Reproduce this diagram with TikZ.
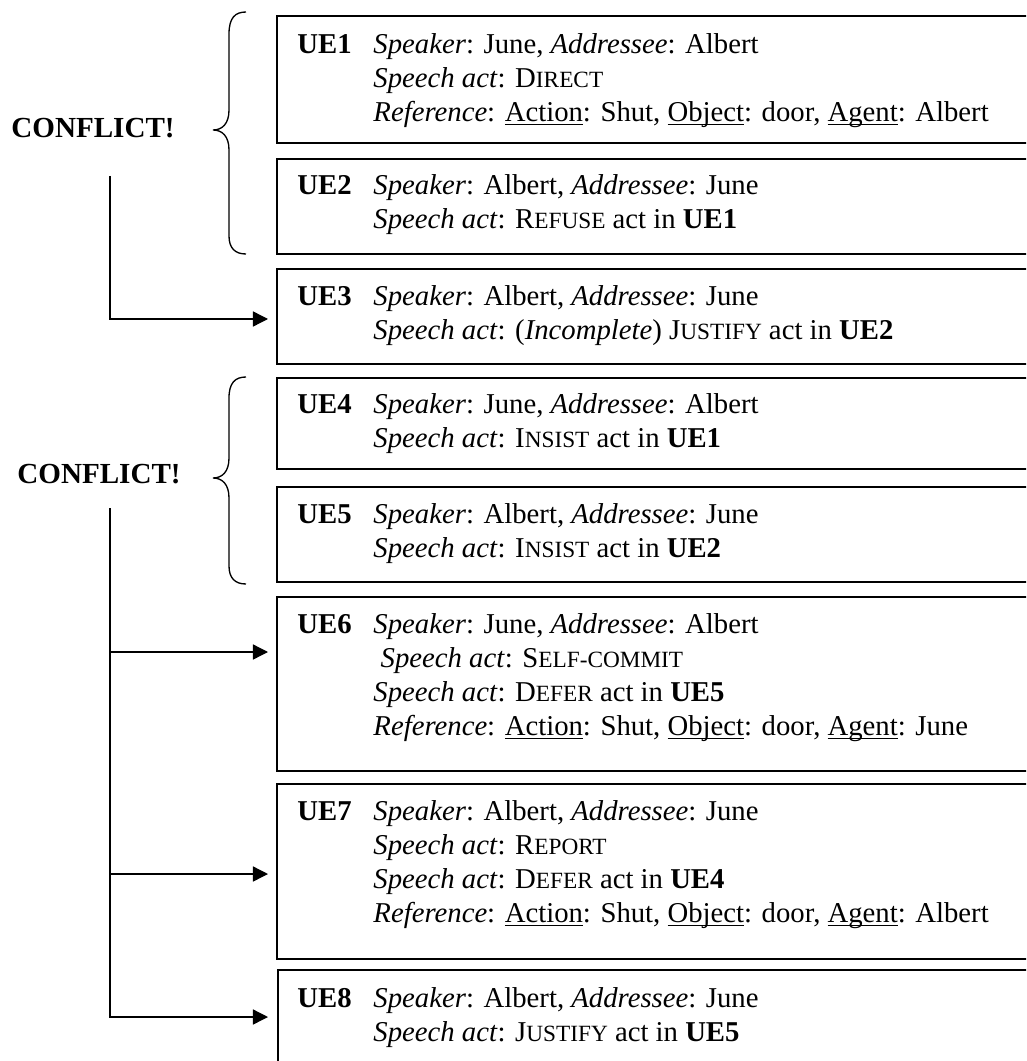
\documentclass[tikz,border=0pt]{standalone}
\usepackage{fontspec}
\setmainfont{Liberation Serif}
\usetikzlibrary{arrows.meta,calc}

% one drawing unit
\newdimen\pxu \pxu=0.4125pt
% width of the label column inside each box
\newdimen\uecol \uecol=31.35pt
% faux small capitals: first letter full size, the rest smaller
\newcommand\fsc[2]{#1{\fontsize{9.6}{14}\selectfont #2}}
% underline at a fixed depth below the baseline
\newcommand\uln[1]{\sbox0{#1}\rlap{\rule[-1.7pt]{\wd0}{0.55pt}}\usebox0}
\newcommand\ue[1]{\strut\makebox[\uecol][l]{\textbf{#1}}}
\newcommand\ind{\hspace*{\uecol}}

\begin{document}
\begin{tikzpicture}[x=\pxu,y=-\pxu,
  uebox/.style={draw,line width=0.8pt,anchor=north west,inner sep=0pt,minimum width=824*\pxu},
  uetext/.style={anchor=north west,inner sep=0pt,align=left,font=\fontsize{11.85}{14}\selectfont},
  conflict/.style={anchor=base,inner sep=0pt,font=\fontsize{12}{14}\selectfont\bfseries},
  arr/.style={line width=0.55pt,-{Triangle[length=6.2pt,width=6.2pt]},shorten >=3.3pt},
  bracel/.style={line width=0.55pt}]

\path[use as bounding box] (0,0) rectangle (1026,1061);
\clip (0,0) rectangle (1026,1061);

% utterance boxes
\node[uebox,minimum height=127*\pxu] (b1) at (276,15) {};
\node[uebox,minimum height=95*\pxu]  (b2) at (276,158) {};
\node[uebox,minimum height=95*\pxu]  (b3) at (276,268) {};
\node[uebox,minimum height=91*\pxu]  (b4) at (276,377) {};
\node[uebox,minimum height=95*\pxu]  (b5) at (276,486) {};
\node[uebox,minimum height=174*\pxu] (b6) at (276,596) {};
\node[uebox,minimum height=175*\pxu] (b7) at (276,783) {};
\node[uebox,minimum height=140*\pxu] (b8) at (277,969) {};

% box contents
\node[uetext] (t1) at ($(b1.north west)+(21,14)$) {%
  \ue{UE1}\textit{Speaker}: June, \textit{Addressee}: Albert\\
  \ind\textit{Speech act}: \fsc{D}{IRECT}\\
  \ind\textit{Reference}: \uln{Action}: Shut, \uln{Object}: door, \uln{Agent}: Albert};
\node[uetext] (t2) at ($(b2.north west)+(21,12)$) {%
  \ue{UE2}\textit{Speaker}: Albert, \textit{Addressee}: June\\
  \ind\textit{Speech act}: \fsc{R}{EFUSE} act in \textbf{UE1}};
\node[uetext] (t3) at ($(b3.north west)+(21,13)$) {%
  \ue{UE3}\textit{Speaker}: Albert, \textit{Addressee}: June\\
  \ind\textit{Speech act}: (\textit{Incomplete}) \fsc{J}{USTIFY} act in \textbf{UE2}};
\node[uetext] (t4) at ($(b4.north west)+(21,12)$) {%
  \ue{UE4}\textit{Speaker}: June, \textit{Addressee}: Albert\\
  \ind\textit{Speech act}: \fsc{I}{NSIST} act in \textbf{UE1}};
\node[uetext] (t5) at ($(b5.north west)+(21,13)$) {%
  \ue{UE5}\textit{Speaker}: Albert, \textit{Addressee}: June\\
  \ind\textit{Speech act}: \fsc{I}{NSIST} act in \textbf{UE2}};
\node[uetext] (t6) at ($(b6.north west)+(21,13)$) {%
  \ue{UE6}\textit{Speaker}: June, \textit{Addressee}: Albert\\
  \ind\ \textit{Speech act}: \fsc{S}{ELF-COMMIT}\\
  \ind\textit{Speech act}: \fsc{D}{EFER} act in \textbf{UE5}\\
  \ind\textit{Reference}: \uln{Action}: Shut, \uln{Object}: door, \uln{Agent}: June};
\node[uetext] (t7) at ($(b7.north west)+(21,13)$) {%
  \ue{UE7}\textit{Speaker}: Albert, \textit{Addressee}: June\\
  \ind\textit{Speech act}: \fsc{R}{EPORT}\\
  \ind\textit{Speech act}: \fsc{D}{EFER} act in \textbf{UE4}\\
  \ind\textit{Reference}: \uln{Action}: Shut, \uln{Object}: door, \uln{Agent}: Albert};
\node[uetext] (t8) at ($(b8.north west)+(20,14)$) {%
  \ue{UE8}\textit{Speaker}: Albert, \textit{Addressee}: June\\
  \ind\textit{Speech act}: \fsc{J}{USTIFY} act in \textbf{UE5}};

% conflict labels
\node[conflict] (k1) at (93,138) {CONFLICT!};
\node[conflict] (k2) at (99,483) {CONFLICT!};

% braces grouping the conflicting utterances
\draw[bracel] (246,12) .. controls (235,12) and (229,18) .. (229,34)
  -- (229,110) .. controls (229,124) and (222,130) .. (213,130)
  .. controls (222,130) and (229,136) .. (229,150)
  -- (229,236) .. controls (229,248) and (235,254) .. (246,254);
\draw[bracel] (246,377) .. controls (235,377) and (229,383) .. (229,398)
  -- (229,458) .. controls (229,472) and (222,478) .. (213,478)
  .. controls (222,478) and (229,484) .. (229,498)
  -- (229,566) .. controls (229,578) and (235,584) .. (246,584);

% connectors from the conflicts to their outcomes
\coordinate (c1) at (110,176);
\coordinate (c2) at (110,508);
\coordinate (a3) at ($(b3.north west)+(0,51)$);
\coordinate (a6) at ($(b6.north west)+(0,56)$);
\coordinate (a7) at ($(b7.north west)+(0,91)$);
\coordinate (a8) at ($(b8.north west)+(-1,48)$);

\draw[arr] (c1) |- (a3);
\draw[arr] (c2) |- (a8);
\draw[arr] (c2 |- a6) -- (a6);
\draw[arr] (c2 |- a7) -- (a7);
\end{tikzpicture}
\end{document}
